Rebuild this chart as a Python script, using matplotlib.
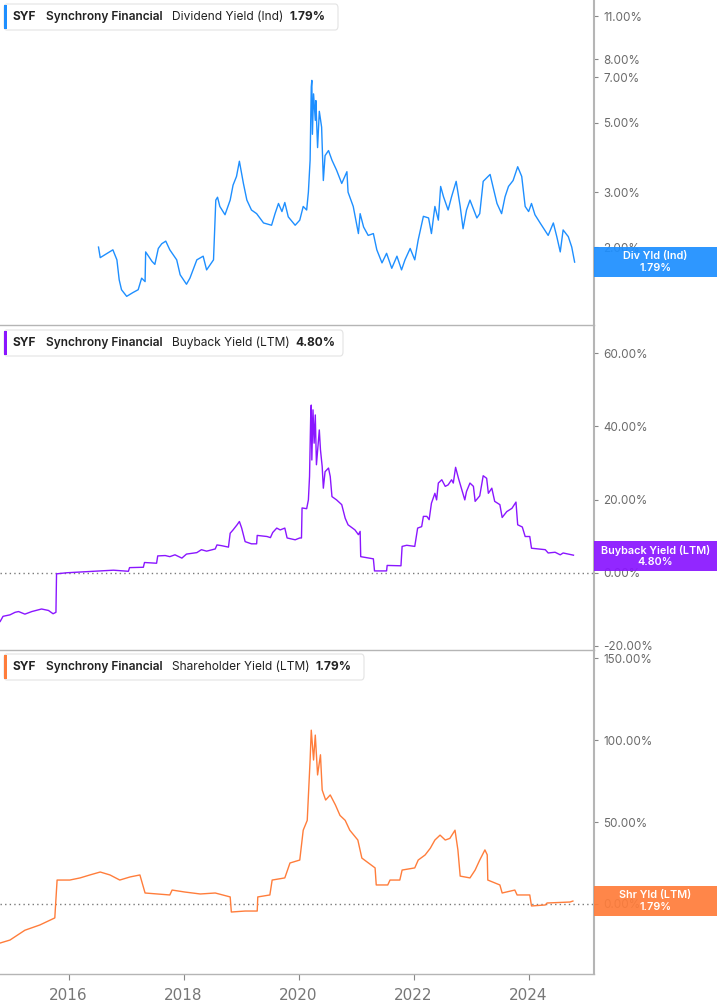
import matplotlib
matplotlib.use('Agg')
import matplotlib.pyplot as plt
from matplotlib.patches import FancyBboxPatch, Rectangle
import matplotlib.ticker as mticker

# ---------------- data (decimal years, percent) ----------------
div_years = [2016.52, 2016.55, 2016.77, 2016.84, 2016.88, 2016.92, 2017.01, 2017.12, 2017.21, 2017.27,
             2017.33, 2017.34, 2017.45, 2017.50, 2017.56, 2017.62, 2017.69, 2017.76, 2017.88, 2017.94,
             2018.05, 2018.11, 2018.23, 2018.34, 2018.40, 2018.52, 2018.56, 2018.59, 2018.63, 2018.72,
             2018.81, 2018.86, 2018.92, 2018.97, 2019.04, 2019.10, 2019.18, 2019.27, 2019.39, 2019.53,
             2019.59, 2019.65, 2019.71, 2019.76, 2019.82, 2019.94, 2020.02, 2020.08, 2020.14, 2020.17,
             2020.20, 2020.22, 2020.23, 2020.24, 2020.26, 2020.29, 2020.30, 2020.33, 2020.36, 2020.40,
             2020.43, 2020.46, 2020.52, 2020.58, 2020.66, 2020.75, 2020.84, 2020.86, 2020.95, 2021.04,
             2021.07, 2021.13, 2021.21, 2021.30, 2021.36, 2021.45, 2021.53, 2021.62, 2021.71, 2021.79,
             2021.85, 2021.94, 2022.02, 2022.08, 2022.17, 2022.26, 2022.31, 2022.37, 2022.43, 2022.47,
             2022.52, 2022.60, 2022.66, 2022.74, 2022.81, 2022.86, 2022.92, 2022.98, 2023.10, 2023.15,
             2023.21, 2023.33, 2023.39, 2023.45, 2023.53, 2023.59, 2023.65, 2023.73, 2023.81, 2023.88,
             2023.94, 2024.00, 2024.05, 2024.11, 2024.20, 2024.34, 2024.43, 2024.49, 2024.55, 2024.60,
             2024.69, 2024.75, 2024.80]
div_yield = [2.00, 1.85, 1.96, 1.82, 1.57, 1.46, 1.39, 1.43, 1.46, 1.59,
             1.55, 1.93, 1.80, 1.76, 1.98, 2.05, 2.09, 1.96, 1.82, 1.63,
             1.52, 1.59, 1.82, 1.87, 1.69, 1.82, 2.83, 2.89, 2.70, 2.54,
             2.83, 3.16, 3.37, 3.77, 3.20, 2.83, 2.63, 2.56, 2.39, 2.35,
             2.56, 2.76, 2.60, 2.78, 2.50, 2.35, 2.44, 2.70, 2.63, 3.00,
             3.80, 6.53, 6.85, 4.60, 6.20, 5.10, 5.90, 4.17, 5.45, 4.85,
             3.27, 3.93, 4.08, 3.80, 3.53, 3.20, 3.49, 3.00, 2.70, 2.21,
             2.56, 2.32, 2.18, 2.21, 1.96, 1.78, 1.91, 1.71, 1.87, 1.69,
             1.82, 1.98, 1.82, 2.11, 2.51, 2.48, 2.21, 2.70, 2.44, 3.13,
             2.90, 2.63, 2.90, 3.25, 2.70, 2.29, 2.63, 2.83, 2.48, 2.56,
             3.25, 3.42, 3.07, 2.76, 2.56, 2.90, 3.13, 3.27, 3.62, 3.37,
             2.70, 2.60, 2.76, 2.54, 2.39, 2.18, 2.39, 2.16, 1.93, 2.27,
             2.16, 2.00, 1.79]

buy_years = [2014.81, 2014.86, 2014.98, 2015.07, 2015.13, 2015.24, 2015.36, 2015.53, 2015.65, 2015.73,
             2015.78, 2015.79, 2015.97, 2016.78, 2017.04, 2017.06, 2017.30, 2017.32, 2017.53, 2017.55,
             2017.68, 2017.76, 2017.85, 2017.97, 2018.05, 2018.23, 2018.31, 2018.40, 2018.55, 2018.58,
             2018.66, 2018.78, 2018.81, 2018.86, 2018.93, 2018.97, 2019.01, 2019.07, 2019.18, 2019.27,
             2019.28, 2019.45, 2019.51, 2019.55, 2019.62, 2019.68, 2019.76, 2019.80, 2019.94, 2020.02,
             2020.05, 2020.06, 2020.14, 2020.17, 2020.19, 2020.21, 2020.22, 2020.23, 2020.25, 2020.27,
             2020.29, 2020.31, 2020.36, 2020.38, 2020.41, 2020.43, 2020.46, 2020.52, 2020.55, 2020.58,
             2020.66, 2020.75, 2020.81, 2020.86, 2020.98, 2021.04, 2021.07, 2021.08, 2021.30, 2021.32,
             2021.53, 2021.54, 2021.78, 2021.80, 2021.88, 2022.02, 2022.07, 2022.14, 2022.17, 2022.23,
             2022.27, 2022.31, 2022.37, 2022.40, 2022.43, 2022.49, 2022.55, 2022.60, 2022.66, 2022.69,
             2022.73, 2022.78, 2022.84, 2022.89, 2022.92, 2022.98, 2023.04, 2023.07, 2023.15, 2023.21,
             2023.27, 2023.30, 2023.36, 2023.41, 2023.50, 2023.54, 2023.62, 2023.71, 2023.78, 2023.81,
             2023.89, 2023.94, 2024.02, 2024.05, 2024.29, 2024.34, 2024.46, 2024.55, 2024.60, 2024.78]
buy_yield = [-13.3, -11.9, -11.5, -10.8, -10.6, -11.3, -10.6, -9.9, -10.3, -11.2,
             -10.8, -0.3, 0.0, 0.7, 0.4, 1.4, 1.5, 2.8, 2.6, 4.6,
             4.7, 4.4, 4.9, 4.0, 5.1, 5.5, 6.3, 5.9, 6.5, 7.6,
             7.4, 7.0, 10.8, 11.7, 13.1, 14.0, 12.2, 8.5, 7.9, 7.9,
             10.2, 9.9, 9.6, 11.0, 12.2, 11.7, 12.2, 9.5, 9.0, 9.5,
             9.5, 17.7, 17.5, 19.9, 26.3, 42.6, 45.8, 30.8, 44.5, 35.4,
             43.1, 29.5, 39.0, 33.6, 29.0, 23.1, 27.6, 28.6, 26.3, 20.8,
             19.9, 18.6, 14.9, 13.1, 11.7, 10.4, 11.3, 4.4, 3.8, 0.5,
             0.5, 2.0, 1.9, 7.2, 7.5, 7.2, 12.2, 12.6, 15.4, 15.4,
             14.5, 19.0, 21.7, 19.9, 24.5, 25.4, 23.6, 24.0, 25.4, 24.5,
             28.8, 25.8, 22.6, 19.9, 22.2, 24.5, 23.6, 19.5, 21.0, 26.5,
             25.8, 21.7, 23.1, 19.5, 18.6, 15.1, 16.7, 17.6, 19.3, 13.1,
             12.5, 9.9, 9.9, 6.7, 6.3, 5.4, 5.6, 4.9, 5.4, 4.80]

shr_years = [2014.81, 2014.98, 2015.24, 2015.50, 2015.76, 2015.80, 2016.02, 2016.20, 2016.37, 2016.55,
             2016.72, 2016.89, 2017.07, 2017.24, 2017.33, 2017.76, 2017.80, 2018.02, 2018.29, 2018.55,
             2018.81, 2018.83, 2019.07, 2019.28, 2019.29, 2019.50, 2019.54, 2019.76, 2019.85, 2020.02,
             2020.08, 2020.15, 2020.20, 2020.22, 2020.26, 2020.29, 2020.33, 2020.38, 2020.41, 2020.47,
             2020.55, 2020.64, 2020.72, 2020.81, 2020.89, 2021.03, 2021.10, 2021.33, 2021.35, 2021.55,
             2021.59, 2021.76, 2021.80, 2022.02, 2022.08, 2022.20, 2022.29, 2022.37, 2022.46, 2022.55,
             2022.63, 2022.72, 2022.77, 2022.81, 2022.98, 2023.07, 2023.15, 2023.24, 2023.28, 2023.29,
             2023.50, 2023.54, 2023.76, 2023.80, 2024.02, 2024.05, 2024.29, 2024.32, 2024.72, 2024.77]
shr_yield = [-23.8, -22.0, -16.0, -12.8, -8.5, 14.6, 14.6, 15.9, 17.7, 19.5,
             17.7, 14.6, 16.5, 17.7, 6.7, 5.5, 8.5, 7.3, 6.1, 6.7,
             4.3, -4.9, -4.3, -4.3, 4.3, 5.5, 14.6, 15.9, 25.0, 26.8,
             45.0, 51.0, 87.8, 106.0, 87.8, 103.0, 78.7, 91.0, 69.5, 63.4,
             66.5, 60.4, 54.0, 51.0, 45.0, 39.0, 28.0, 22.0, 11.6, 11.6,
             14.6, 14.6, 20.7, 22.0, 26.8, 29.9, 34.0, 39.0, 42.0, 39.0,
             40.0, 45.0, 33.0, 17.0, 15.9, 20.7, 26.8, 33.0, 30.0, 14.6,
             11.6, 6.7, 8.5, 5.5, 5.5, -1.2, -0.6, 0.6, 1.2, 1.79]

x_tick_years = [2016, 2018, 2020, 2022, 2024]
div_ticks = [2, 3, 5, 7, 8, 11]
buy_ticks = [-20, 0, 20, 40, 60]
shr_ticks = [0, 50, 100, 150]

series_names = ["Dividend Yield (Ind)", "Buyback Yield (LTM)", "Shareholder Yield (LTM)"]
short_names = ["Div Yld (Ind)", "Buyback Yield (LTM)", "Shr Yld (LTM)"]
last_values = ["1.79%", "4.80%", "1.79%"]
ticker = "SYF"
company = "Synchrony Financial"

# ---------------- layout ----------------
W, H = 717, 1005
fig = plt.figure(figsize=(W / 100, H / 100), dpi=100)
fig.patch.set_facecolor('white')

def fx(x):
    return x / W

def fy(y):
    return 1 - y / H

colors = ['#1E8FFF', '#8A16FF', '#FF7D3B']
grey = '#b5b5b5'
tick_color = '#6a6a6a'
RIGHT = 594
panels = [(0, 325), (326, 650), (650, 974)]
ylims = [(1.125, 12.4), (-21.1, 67.4), (-42.7, 154.9)]
XLIM = (2014.807, 2025.137)

data = [(div_years, div_yield), (buy_years, buy_yield), (shr_years, shr_yield)]
ticks = [div_ticks, buy_ticks, shr_ticks]

axes = []
for i, (top, bot) in enumerate(panels):
    ax = fig.add_axes([0, fy(bot), fx(RIGHT), (bot - top) / H])
    axes.append(ax)
    xs, ys = data[i]
    ax.plot(xs, ys, color=colors[i], lw=1.0, solid_joinstyle='round')
    if i == 0:
        ax.set_yscale('log')
    ax.set_xlim(*XLIM)
    ax.set_ylim(*ylims[i])
    ax.yaxis.set_major_locator(mticker.FixedLocator(ticks[i]))
    ax.yaxis.set_minor_locator(mticker.NullLocator())
    ax.yaxis.set_major_formatter(mticker.FuncFormatter(lambda v, p: f"{v:.2f}%"))
    ax.yaxis.tick_right()
    ax.tick_params(axis='y', which='both', length=3, width=0.8, color='#888888',
                   pad=3.5, labelsize=8.4, labelcolor=tick_color)
    for lab in ax.get_yticklabels():
        lab.set_family(['Inter', 'DejaVu Sans'])
    ax.spines['left'].set_visible(False)
    ax.spines['top'].set_visible(False)
    ax.spines['right'].set_color(grey)
    ax.spines['right'].set_linewidth(1.5)
    ax.spines['bottom'].set_color(grey)
    ax.spines['bottom'].set_linewidth(1.0)
    ax.patch.set_alpha(0)
    if i > 0:
        ax.axhline(0, color='#7a7a7a', lw=1.0, ls=(0, (1, 2.3)), zorder=1)
    if i < 2:
        ax.set_xticks([])
    else:
        ax.set_xticks(x_tick_years)
        ax.set_xticklabels([str(y) for y in x_tick_years])
        ax.tick_params(axis='x', length=4, width=0.8, color='#888888', pad=6,
                       labelsize=11, labelcolor='#777777')
        for lab in ax.get_xticklabels():
            lab.set_family(['Liberation Sans Narrow', 'DejaVu Sans'])

# ---------------- legends (top-left boxes) ----------------
legend_right = [338, 343, 364]
metric_x = 172
value_x = [290, 295, 316]
for i, (top, bot) in enumerate(panels):
    y0 = top + 4
    y1 = top + 30
    box = FancyBboxPatch((fx(4), fy(y1)), fx(legend_right[i] - 4), (y1 - y0) / H,
                         boxstyle="round,pad=0,rounding_size=0.004",
                         transform=fig.transFigure, facecolor='white',
                         edgecolor='#e3e3e3', lw=0.8, zorder=6)
    fig.patches.append(box)
    bar = Rectangle((fx(4), fy(y1 - 1)), fx(3), (y1 - y0 - 2) / H,
                    transform=fig.transFigure, facecolor=colors[i], edgecolor='none', zorder=7)
    fig.patches.append(bar)
    yc = fy(top + 17)
    kw = dict(va='center', ha='left', fontsize=8.6, color='#222222', zorder=8,
              family=['Inter', 'DejaVu Sans'])
    fig.text(fx(13), yc, ticker, fontweight='bold', **kw)
    fig.text(fx(46), yc, company, fontweight='semibold', **kw)
    fig.text(fx(metric_x), yc, series_names[i], fontweight='normal', **kw)
    fig.text(fx(value_x[i]), yc, last_values[i], fontweight='bold', **kw)

# ---------------- right value labels ----------------
label_tops = [247, 541, 886]
for i, t in enumerate(label_tops):
    rect = Rectangle((fx(RIGHT), fy(t + 30)), fx(W - RIGHT), 30 / H,
                     transform=fig.transFigure, facecolor=colors[i], edgecolor='none',
                     alpha=0.93, zorder=6)
    fig.patches.append(rect)
    kw = dict(ha='center', va='center', fontsize=7.8, color='white', fontweight='semibold',
              zorder=8, family=['Inter', 'DejaVu Sans'])
    fig.text(fx((RIGHT + W) / 2), fy(t + 9), short_names[i], **kw)
    fig.text(fx((RIGHT + W) / 2), fy(t + 21), last_values[i], **kw)

fig.savefig('out.png', dpi=100, facecolor='white')
